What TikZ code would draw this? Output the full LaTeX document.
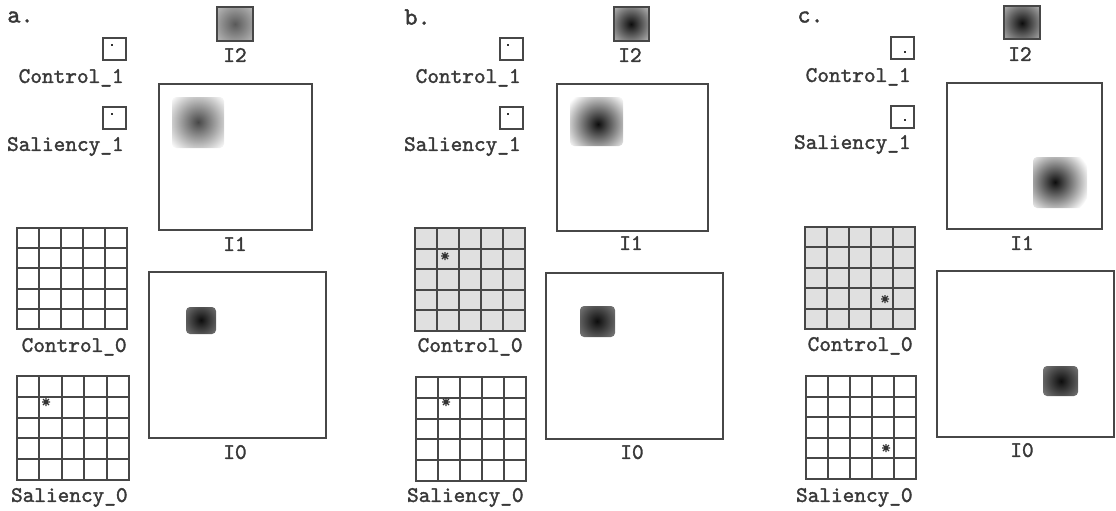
\documentclass[tikz,border=0pt]{standalone}
\usepackage{fontspec}
\newfontfamily\typ{lmmono10-regular}[Extension=.otf,AutoFakeBold=1.6]
\usetikzlibrary{fit,calc}
\tikzset{
  frame/.style={draw=black!72,line width=1.05pt,inner sep=0pt,outer sep=0pt},
  gridln/.style={draw=black!72,line width=1.05pt},
  lbl/.style={font=\typ\bfseries\fontsize{11.1}{12}\selectfont,text=black!78,inner sep=0pt,text depth=0pt},
  panel/.style={font=\typ\bfseries\fontsize{12.5}{13}\selectfont,text=black!78,inner sep=0pt,anchor=west,text depth=0pt},
  mk/.style={draw=black!80,line width=0.6pt},
}
\newcommand\mkbox[6][]{\node[frame,#1,fit={(#3,#4)(#5,#6)}] (#2) {};}
\newcommand\mkgrid[6][]{\mkbox[#1]{#2}{#3}{#4}{#5}{#6}
  \foreach \i in {1,...,4}{
    \draw[gridln] ($(#2.north west)!\i/5!(#2.north east)$) -- ($(#2.south west)!\i/5!(#2.south east)$);
    \draw[gridln] ($(#2.north west)!\i/5!(#2.south west)$) -- ($(#2.north east)!\i/5!(#2.south east)$);
  }}
\newcommand\astk[2]{\draw[mk,shift={(#1,#2)}] (-4,0)--(4,0) (0,-4)--(0,4) (-3,-3)--(3,3) (-3,3)--(3,-3);}
\newcommand\dotmk[2]{\fill[black!80] (#1-1.3,#2-1.3) rectangle (#1+1.3,#2+1.3);}
% blob: cx cy x1 y1 x2 y2 inner outer radius
\newcommand\blob[9]{\begin{scope}\clip[rounded corners=2pt] (#3,#4) rectangle (#5,#6);
  \shade[inner color=#7,outer color=#8] (#1,#2) circle[radius=#9];\end{scope}}
\begin{document}
\begin{tikzpicture}[x=0.5pt,y=-0.5pt]
\useasboundingbox (0,0) rectangle (1116,510);
% ===== panel a =====
\node[panel] (pa) at (7,17) {a.};
\blob{235}{24}{217}{7}{253}{41}{black!65}{black!22}{14pt}
\mkbox{aI2}{217}{7}{253}{41}
\node[lbl] (aI2l) at (235,55) {I2};
\mkbox{aC1}{103}{38}{126}{60}
\dotmk{112}{45}
\node[lbl,anchor=east] (aC1l) at (124,76) {Control\_1};
\mkbox{aS1}{103}{107}{126}{129}
\dotmk{112}{114}
\node[lbl,anchor=east] (aS1l) at (124,144) {Saliency\_1};
\blob{198}{122}{172}{97}{224}{148}{black!72}{white}{18pt}
\mkbox{aI1}{159}{84}{312}{230}
\node[lbl] (aI1l) at (235,244) {I1};
\mkgrid{aC0}{17}{228}{127}{329}
\node[lbl,anchor=east] (aC0l) at (127,345) {Control\_0};
\mkgrid{aS0}{17}{376}{129}{480}
\astk{46}{402}
\node[lbl,anchor=east] (aS0l) at (128,495) {Saliency\_0};
\blob{201}{320}{186}{307}{216}{334}{black!95}{black!50}{11pt}
\mkbox{aI0}{149}{272}{326}{438}
\node[lbl] (aI0l) at (235,452) {I0};
% ===== panel b =====
\node[panel] (pb) at (404,17) {b.};
\blob{631}{24}{614}{7}{649}{41}{black!95}{black!18}{14pt}
\mkbox{bI2}{614}{7}{649}{41}
\node[lbl] (bI2l) at (630,55) {I2};
\mkbox{bC1}{500}{38}{523}{60}
\dotmk{508}{45}
\node[lbl,anchor=east] (bC1l) at (521,76) {Control\_1};
\mkbox{bS1}{500}{107}{523}{129}
\dotmk{508}{114}
\node[lbl,anchor=east] (bS1l) at (521,144) {Saliency\_1};
\blob{598}{124}{570}{97}{623}{146}{black!95}{white}{18pt}
\mkbox{bI1}{557}{84}{708}{231}
\node[lbl] (bI1l) at (631,243) {I1};
\mkgrid[fill=black!12]{bC0}{415}{228}{525}{331}
\astk{445}{256}
\node[lbl,anchor=east] (bC0l) at (523,345) {Control\_0};
\mkgrid{bS0}{416}{377}{526}{481}
\astk{446}{402}
\node[lbl,anchor=east] (bS0l) at (524,495) {Saliency\_0};
\blob{597}{321}{580}{306}{615}{337}{black!95}{black!50}{12pt}
\mkbox{bI0}{546}{273}{723}{439}
\node[lbl] (bI0l) at (632,452) {I0};
% ===== panel c =====
\node[panel] (pc) at (797,17) {c.};
\blob{1022}{23}{1004}{6}{1040}{39}{black!95}{black!22}{14pt}
\mkbox{cI2}{1004}{6}{1040}{39}
\node[lbl] (cI2l) at (1020,54) {I2};
\mkbox{cC1}{891}{37}{914}{59}
\dotmk{905}{52}
\node[lbl,anchor=east] (cC1l) at (911,75) {Control\_1};
\mkbox{cS1}{891}{106}{914}{128}
\dotmk{905}{120}
\node[lbl,anchor=east] (cS1l) at (911,142) {Saliency\_1};
\blob{1055}{182}{1033}{157}{1087}{208}{black!95}{white}{18pt}
\mkbox{cI1}{947}{83}{1102}{229}
\node[lbl] (cI1l) at (1022,243) {I1};
\mkgrid[fill=black!12]{cC0}{805}{227}{915}{329}
\astk{885}{299}
\node[lbl,anchor=east] (cC0l) at (913,344) {Control\_0};
\mkgrid{cS0}{806}{376}{916}{479}
\astk{886}{448}
\node[lbl,anchor=east] (cS0l) at (913,495) {Saliency\_0};
\blob{1061}{381}{1043}{366}{1078}{396}{black!95}{black!50}{12pt}
\mkbox{cI0}{937}{271}{1114}{437}
\node[lbl] (cI0l) at (1022,450) {I0};
\end{tikzpicture}
\end{document}
